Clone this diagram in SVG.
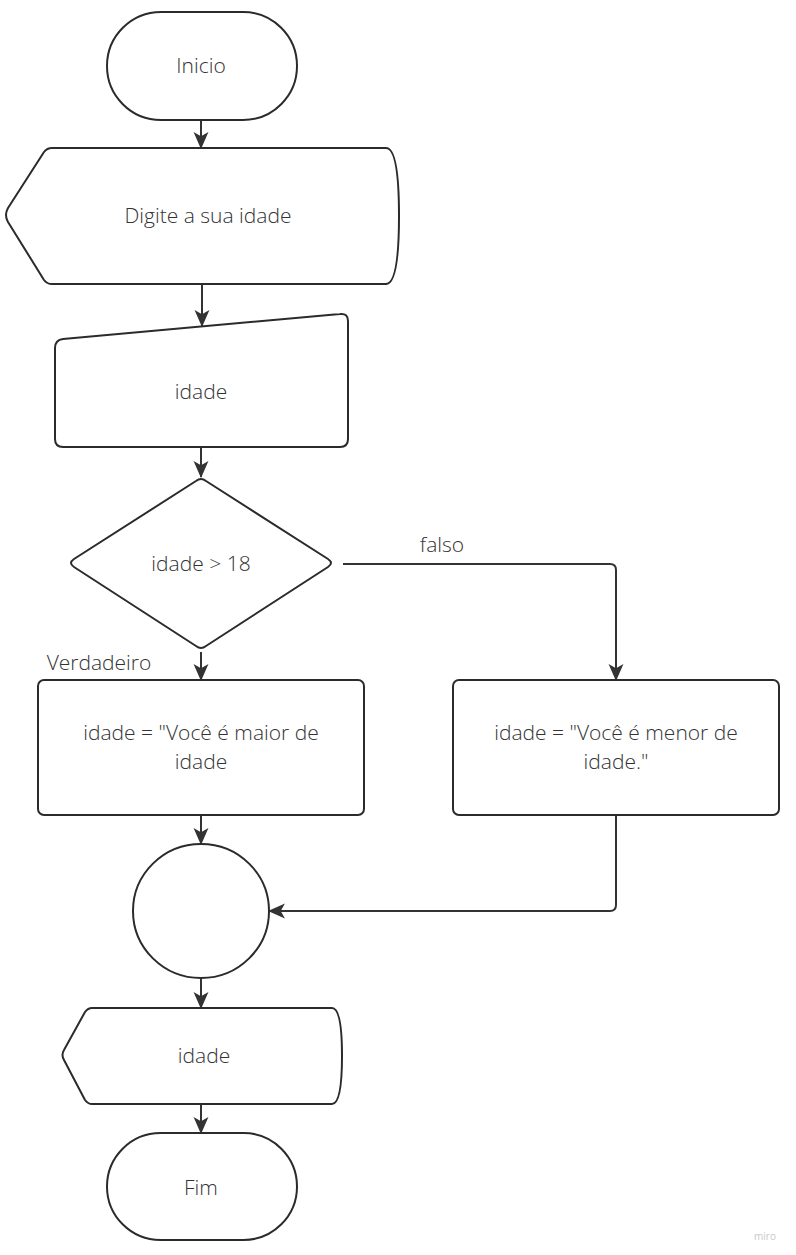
<svg xmlns="http://www.w3.org/2000/svg" width="796" height="1255" viewBox="0 0 796 1255">
<defs>
<style>
.s{fill:#fff;stroke:#2b2b2b;stroke-width:2;stroke-linejoin:round}
.t{font-family:"Open Sans","Noto Sans",sans-serif;font-size:21px;font-weight:300;fill:#333;text-anchor:middle;dominant-baseline:central}
.c{fill:none;stroke:#333;stroke-width:2;stroke-linejoin:round}
</style>
<marker id="ah" viewBox="0 0 16 16" refX="15" refY="8" markerWidth="17" markerHeight="17" markerUnits="userSpaceOnUse" orient="auto">
<path d="M0,1 L16,8 L0,15 L4,8 Z" fill="#333"/>
</marker>
</defs>
<rect width="796" height="1255" fill="#fff"/>
<g id="connectors">
<path class="c" d="M201,120 V148" marker-end="url(#ah)"/>
<path class="c" d="M202,285 V296 L202,326" marker-end="url(#ah)"/>
<path class="c" d="M201,447 V477" marker-end="url(#ah)"/>
<path class="c" d="M343,564 H610 Q616,564 616,570 V680" marker-end="url(#ah)"/>
<path class="c" d="M201,652 V680" marker-end="url(#ah)"/>
<path class="c" d="M201,815 V844" marker-end="url(#ah)"/>
<path class="c" d="M616,815 V905 Q616,911 610,911 H269" marker-end="url(#ah)"/>
<path class="c" d="M201,979 V1008" marker-end="url(#ah)"/>
<path class="c" d="M201,1104 V1133" marker-end="url(#ah)"/>
<text class="t" x="442" y="544">falso</text>
<text class="t" x="99" y="662">Verdadeiro</text>
</g>
<g id="inicio">
<rect class="s" x="107" y="12" width="190" height="108" rx="54"/>
<text class="t" x="201" y="65">Inicio</text>
</g>
<g id="digite">
<path class="s" d="M52,148 H386 Q399,148 399,216 Q399,284 386,284 H52 Q47,284 44,280 L8,222 Q4,215 8,208 L44,152 Q47,148 52,148 Z"/>
<text class="t" x="208" y="215">Digite a sua idade</text>
</g>
<g id="entrada">
<path class="s" d="M63,339 L340,314 Q348,313 348,321 V439 Q348,447 340,447 H63 Q55,447 55,439 V348 Q55,340 63,339 Z"/>
<text class="t" x="201" y="391">idade</text>
</g>
<g id="decisao">
<path class="s" d="M196,481 Q201,477 206,481 L328,559 Q334,563 328,567 L206,646 Q201,650 196,646 L74,567 Q68,563 74,559 Z"/>
<text class="t" x="201" y="563">idade &gt; 18</text>
</g>
<g id="maior">
<rect class="s" x="38" y="680" width="326" height="135" rx="6"/>
<text class="t" x="201" y="732">idade = "Você é maior de</text>
<text class="t" x="201" y="761">idade</text>
</g>
<g id="menor">
<rect class="s" x="453" y="680" width="326" height="135" rx="6"/>
<text class="t" x="616" y="732">idade = "Você é menor de</text>
<text class="t" x="616" y="761">idade."</text>
</g>
<g id="conector">
<ellipse class="s" cx="201" cy="911" rx="68" ry="67"/>
</g>
<g id="saida">
<path class="s" d="M92,1008 H332 Q342,1008 342,1056 Q342,1104 332,1104 H92 Q88,1104 85,1100 L64,1060 Q61,1055 64,1050 L85,1012 Q88,1008 92,1008 Z"/>
<text class="t" x="204" y="1055">idade</text>
</g>
<g id="fim">
<rect class="s" x="107" y="1133" width="190" height="107" rx="53.5"/>
<text class="t" x="201" y="1187">Fim</text>
</g>
<text x="765" y="1236" style="font-family:'Open Sans',sans-serif;font-size:10px;fill:#c8c8cc;text-anchor:middle;dominant-baseline:central">miro</text>
</svg>
